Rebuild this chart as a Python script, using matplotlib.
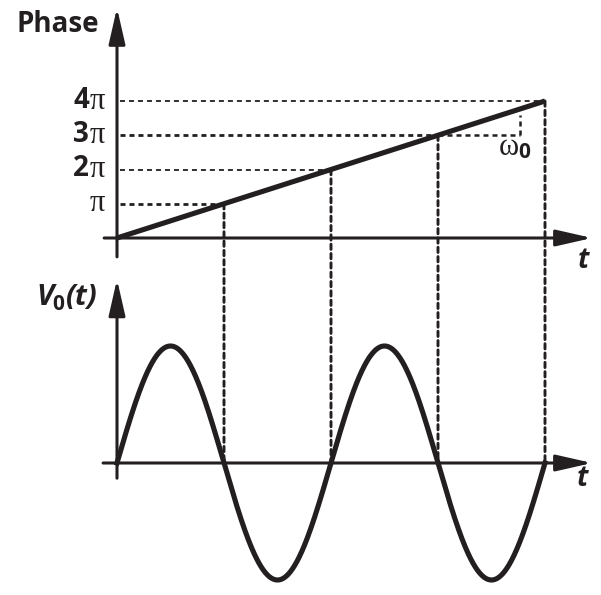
import numpy as np
import matplotlib.pyplot as plt
from matplotlib.patches import ConnectionPatch

# ------------------------------------------------------------
# Data (phase in multiples of pi, time in units of pi/w0)
# ------------------------------------------------------------

phase_levels = [1, 2, 3, 4]
level_digits = ["", "2", "3", "4"]
level_dash_lw = [2.0, 1.3, 2.0, 1.3]
t_cross = [1, 2, 3, 4]

ramp_t = [0, 4]
ramp_phase = [0, 4]

# V0(t) = sin(phase)
t_wave = np.linspace(0, 4, 800)
v_wave = np.sin(np.pi * t_wave)

# slope marker on the ramp
slope_t = 3.77

# ------------------------------------------------------------
# Layout
# ------------------------------------------------------------

W, H = 601, 595
x0, sx = 117, 107          # t = 0 pixel, pixels per unit t
y_top, s_top = 238, 34.25  # phase = 0 pixel, pixels per pi
y_bot, s_bot = 463, 117    # V = 0 pixel, pixels per unit V

ink = "#231f20"
sans = ["Open Sans", "DejaVu Sans"]
serif = ["Liberation Serif", "DejaVu Serif"]

fig = plt.figure(figsize=(W / 100, H / 100), dpi=100)

ax_top = fig.add_axes([0, 0, 1, 1])
ax_bot = fig.add_axes([0, 0, 1, 1])
for ax in (ax_top, ax_bot):
    ax.set_xlim(-x0 / sx, (W - x0) / sx)
    ax.axis("off")
    ax.patch.set_alpha(0)
ax_top.set_ylim((y_top - H) / s_top, y_top / s_top)
ax_bot.set_ylim((y_bot - H) / s_bot, y_bot / s_bot)


def fx(px):
    return px / W


def fy(py):
    return 1 - py / H


def arrow(ax, start, tip):
    ax.annotate(
        "", xy=tip, xytext=start,
        arrowprops=dict(
            arrowstyle="-|>,head_length=2.2,head_width=0.5",
            mutation_scale=10, lw=2.2, color=ink,
            shrinkA=0, shrinkB=0
        )
    )


# ------------------------------------------------------------
# Top: phase ramp
# ------------------------------------------------------------

arrow(ax_top, (0, -0.55), (0, 6.72))
arrow(ax_top, (-0.12, 0), (4.44, 0))

for p, t, lw in zip(phase_levels, t_cross, level_dash_lw):
    ax_top.plot([0.03, t], [p, p], color=ink, lw=lw,
                linestyle=(0, (5 / (lw * 1.39), 4 / (lw * 1.39))))

# slope marker
ax_top.plot([3, slope_t], [3, 3], color=ink, lw=1.8, linestyle=(0, (2, 1.6)))
ax_top.plot([slope_t, slope_t], [3, slope_t - 0.18], color=ink, lw=1.8,
            linestyle=(0, (2, 1.6)))

ax_top.plot(ramp_t, ramp_phase, color=ink, lw=3.7, solid_capstyle="butt")

# vertical drop lines from the ramp to the V0 axis
for t, p in zip(t_cross, phase_levels):
    con = ConnectionPatch(
        xyA=(t, p), coordsA=ax_top.transData,
        xyB=(t, 0), coordsB=ax_bot.transData,
        color=ink, lw=2.1, linestyle=(0, (1.8, 1.4))
    )
    fig.add_artist(con)

# ------------------------------------------------------------
# Bottom: V0(t)
# ------------------------------------------------------------

arrow(ax_bot, (0, -0.13), (0, 1.57))
arrow(ax_bot, (-0.13, 0), (4.44, 0))
ax_bot.plot(t_wave, v_wave, color=ink, lw=3.7)

# ------------------------------------------------------------
# Labels
# ------------------------------------------------------------

fig.text(fx(99), fy(24), "Phase", family=sans, weight="bold", fontsize=20,
         ha="right", va="center", color=ink)

for p, d in zip(phase_levels, level_digits):
    ypx = y_top - s_top * p
    fig.text(fx(105), fy(ypx), "π", family=serif, fontsize=22,
             ha="right", va="center", color=ink)
    if d:
        fig.text(fx(89), fy(ypx - 1), d, family=sans, weight="bold",
                 fontsize=20, ha="right", va="center", color=ink)

fig.text(fx(583), fy(261), "t", family=sans, weight="bold", style="italic",
         fontsize=20, ha="center", va="center", color=ink)
fig.text(fx(582), fy(479), "t", family=sans, weight="bold", style="italic",
         fontsize=20, ha="center", va="center", color=ink)

fig.text(fx(36), fy(305), "V", family=sans, weight="bold", style="italic",
         fontsize=21, ha="left", va="baseline", color=ink)
fig.text(fx(52), fy(310), "0", family=sans, weight="bold",
         fontsize=15, ha="left", va="baseline", color=ink)
fig.text(fx(66), fy(305), "(t)", family=sans, weight="bold", style="italic",
         fontsize=21, ha="left", va="baseline", color=ink)

fig.text(fx(499), fy(155), "ω", family=serif, fontsize=22,
         ha="left", va="baseline", color=ink)
fig.text(fx(518), fy(158), "0", family=sans, weight="bold",
         fontsize=15, ha="left", va="baseline", color=ink)

fig.savefig("out.png", dpi=100, facecolor="white")
